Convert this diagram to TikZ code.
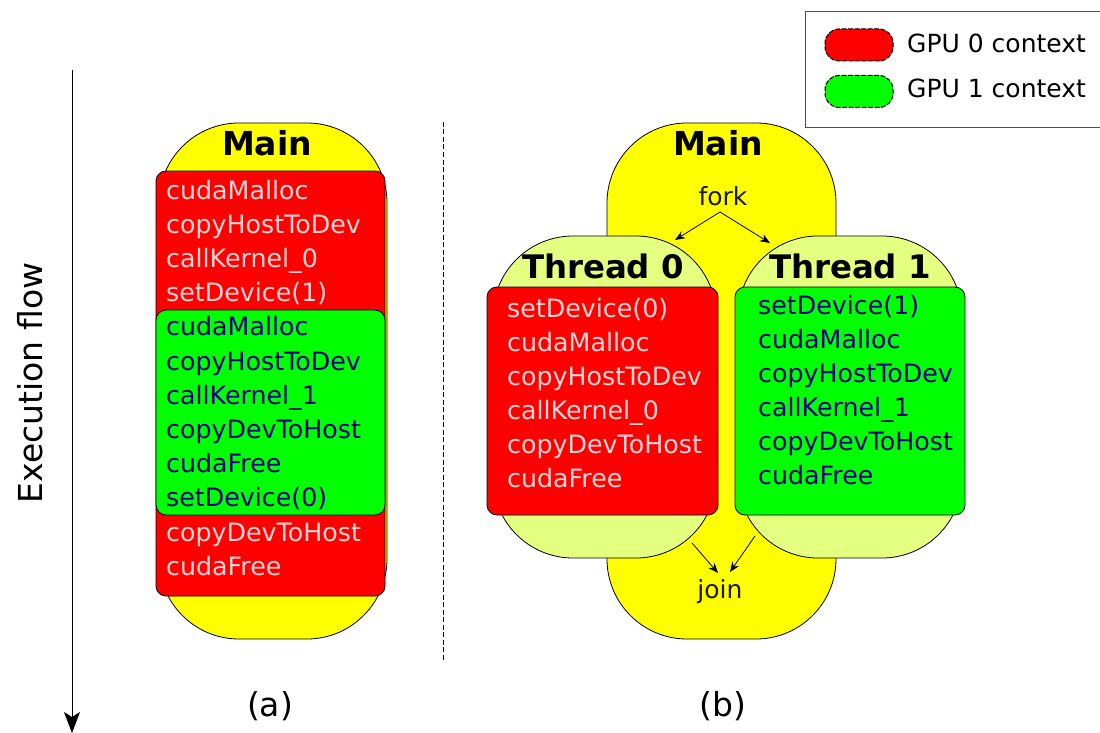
\documentclass[tikz,border=0pt]{standalone}
\usepackage{fontspec}
\setmainfont{DejaVu Sans}
\usetikzlibrary{arrows.meta}
\definecolor{gpuzero}{HTML}{FF0000}
\definecolor{gpuone}{HTML}{00FF00}
\definecolor{mainfill}{HTML}{FFFF00}
\definecolor{threadfill}{HTML}{E5FF80}
\definecolor{redtext}{HTML}{FFD5D5}
\definecolor{greentext}{HTML}{000080}
\definecolor{legendline}{HTML}{4D4D4D}
\begin{document}
\begin{tikzpicture}[x=1pt,y=-1pt,
  blob/.style={draw=black, line width=0.8pt, rounded corners=80pt, inner sep=0pt},
  mainblob/.style={blob, fill=mainfill},
  threadblob/.style={blob, fill=threadfill},
  ctx/.style={draw=black, line width=0.8pt, rounded corners=10pt, inner sep=0pt},
  ctxzero/.style={ctx, fill=gpuzero},
  ctxone/.style={ctx, fill=gpuone},
  title/.style={font=\fontsize{33}{40}\selectfont\bfseries, anchor=base, inner sep=0pt},
  thtitle/.style={font=\fontsize{32.4}{39}\selectfont\bfseries, anchor=base, inner sep=0pt},
  call/.style={font=\fontsize{25.3}{29}\selectfont, anchor=base west, inner sep=0pt},
  redcall/.style={call, text=redtext},
  greencall/.style={call, text=greentext},
  note/.style={font=\fontsize{25}{29}\selectfont, anchor=base, inner sep=0pt, text=black!90},
  caption/.style={font=\fontsize{33}{39}\selectfont, anchor=base, inner sep=0pt},
  flow/.style={-{Stealth[length=10pt,width=8pt]}, line width=0.8pt},
  pill/.style={draw=black, line width=1pt, dash pattern=on 5pt off 1.5pt,
    rounded corners=14pt, minimum width=68pt, minimum height=32pt, inner sep=0pt}
]
\useasboundingbox (0,0) rectangle (1100,733);

% ---------- execution flow axis ----------
\coordinate (axtop) at (72,70);
\coordinate (axbot) at (72,733);
\draw[line width=1pt, -{Stealth[length=21pt,width=16pt,inset=5pt]}] (axtop) -- (axbot);
\node[font=\fontsize{33}{39}\selectfont, rotate=90, anchor=base, inner sep=0pt]
  (axlabel) at (42,383) {Execution flow};

% ---------- (a) single thread switching devices ----------
\node[mainblob, minimum width=228pt, minimum height=516pt] (mainA) at (273,381) {};
\node[ctxzero, minimum width=229pt, minimum height=425pt] (redA) at (270.5,383.5) {};
\node[ctxone, minimum width=229pt, minimum height=205pt] (greenA) at (270.5,412.5) {};
\node[title] (mainAtitle) at (267,155) {Main};

\foreach \t [count=\i from 0] in {cudaMalloc, copyHostToDev, callKernel\_0, setDevice(1)}
  \node[redcall] (aR\i) at (166,{199+34.2*\i}) {\t};
\foreach \t [count=\i from 4] in {cudaMalloc, copyHostToDev, callKernel\_1, copyDevToHost, cudaFree, setDevice(0)}
  \node[greencall] (aG\i) at (166,{199+34.2*\i}) {\t};
\foreach \t [count=\i from 10] in {copyDevToHost, cudaFree}
  \node[redcall] (aR\i) at (166,{199+34.2*\i}) {\t};

\node[caption] (capA) at (270,716) {(a)};

% ---------- divider ----------
\coordinate (divtop) at (443,122);
\coordinate (divbot) at (443,662);
\draw[line width=0.8pt, dash pattern=on 5pt off 2.5pt] (divtop) -- (divbot);

% ---------- (b) one host thread per device ----------
\node[mainblob, minimum width=229pt, minimum height=516pt] (mainB) at (721.5,381) {};
\node[title] (mainBtitle) at (718,155) {Main};
\node[note] (fork) at (723,205) {fork};

\node[threadblob, minimum width=223pt, minimum height=322pt] (th0) at (604.5,397) {};
\node[threadblob, minimum width=224pt, minimum height=322pt] (th1) at (850,397) {};

\coordinate (forkroot) at (720,212);
\coordinate (fork0) at (675,240);
\coordinate (fork1) at (770,243);
\draw[flow] (forkroot) -- (fork0);
\draw[flow] (forkroot) -- (fork1);

\node[thtitle] (th0title) at (603,278) {Thread 0};
\node[thtitle] (th1title) at (850,278) {Thread 1};

\node[ctxzero, minimum width=231pt, minimum height=228pt] (redB) at (602.5,401) {};
\node[ctxone, minimum width=230pt, minimum height=228pt] (greenB) at (850,401) {};

\foreach \t [count=\i from 0] in {setDevice(0), cudaMalloc, copyHostToDev, callKernel\_0, copyDevToHost, cudaFree}
  \node[redcall] (bR\i) at (507,{317+34*\i}) {\t};
\foreach \t [count=\i from 0] in {setDevice(1), cudaMalloc, copyHostToDev, callKernel\_1, copyDevToHost, cudaFree}
  \node[greencall] (bG\i) at (758,{314+34*\i}) {\t};

\node[note] (join) at (720,598) {join};
\coordinate (join0) at (692,543);
\coordinate (join1) at (755,536);
\coordinate (join0end) at (718,573);
\coordinate (join1end) at (730,572);
\draw[flow] (join0) -- (join0end);
\draw[flow] (join1) -- (join1end);

\node[caption] (capB) at (723,716) {(b)};

% ---------- legend ----------
\coordinate (legNW) at (805,12);
\coordinate (legSE) at (1108,128);
\draw[draw=legendline, line width=1pt, fill=white] (legNW) rectangle (legSE);
\node[pill, fill=gpuzero] (key0) at (859,45) {};
\node[pill, fill=gpuone] (key1) at (859,91.5) {};
\node[font=\fontsize{25}{29}\selectfont, anchor=base west, inner sep=0pt]
  (key0text) at (907,53) {GPU 0 context};
\node[font=\fontsize{25}{29}\selectfont, anchor=base west, inner sep=0pt]
  (key1text) at (907,98) {GPU 1 context};
\end{tikzpicture}
\end{document}
